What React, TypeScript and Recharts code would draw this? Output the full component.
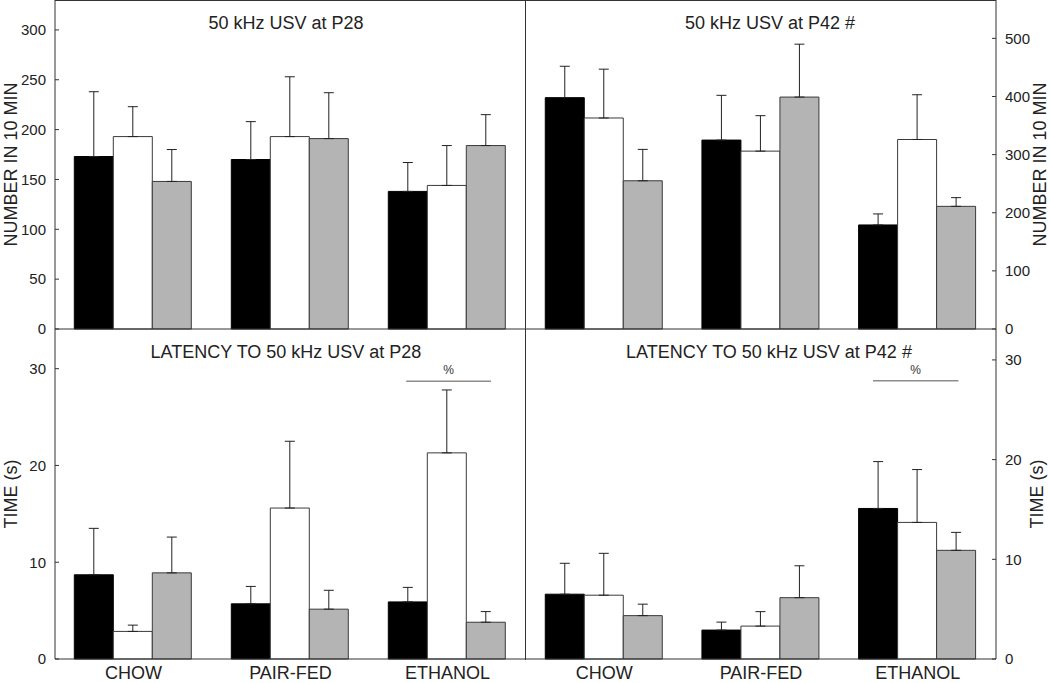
import React from "react";
import { BarChart, Bar, XAxis, YAxis, ErrorBar, ReferenceLine, Label } from "recharts";

const groups = ["CHOW", "PAIR-FED", "ETHANOL"];

// 50 kHz USV at P28 (number in 10 min)
const p28Black = [173, 170, 138];
const p28White = [193, 193, 144];
const p28Gray = [148, 191, 184];
const p28BlackErr = [65, 38, 29];
const p28WhiteErr = [30, 60, 40];
const p28GrayErr = [32, 46, 31];

// 50 kHz USV at P42
const p42Black = [398, 325, 179];
const p42White = [363, 306, 326];
const p42Gray = [255, 399, 211];
const p42BlackErr = [54, 77, 19];
const p42WhiteErr = [84, 61, 77];
const p42GrayErr = [54, 91, 15];

// latency at P28 (s)
const latP28Black = [8.7, 5.7, 5.9];
const latP28White = [2.85, 15.6, 21.3];
const latP28Gray = [8.9, 5.15, 3.8];
const latP28BlackErr = [4.8, 1.8, 1.5];
const latP28WhiteErr = [0.65, 6.9, 6.5];
const latP28GrayErr = [3.7, 1.95, 1.1];

// latency at P42 (s)
const latP42Black = [6.5, 2.9, 15.1];
const latP42White = [6.4, 3.3, 13.7];
const latP42Gray = [4.35, 6.15, 10.9];
const latP42BlackErr = [3.1, 0.8, 4.7];
const latP42WhiteErr = [4.2, 1.45, 5.3];
const latP42GrayErr = [1.15, 3.2, 1.8];

const countTicksP28 = [0, 50, 100, 150, 200, 250, 300];
const countTicksP42 = [0, 100, 200, 300, 400, 500];
const timeTicks = [0, 10, 20, 30];

// "%" bars over ETHANOL (x in category units 0..3, y in seconds)
const sigP28 = { from: 2.237, to: 2.777, y: 28.7 };
const sigP42 = { from: 2.215, to: 2.76, y: 27.9 };

function rows(b: number[], w: number[], g: number[], be: number[], we: number[], ge: number[]) {
  return groups.map((name, i) => ({
    group: name,
    black: b[i],
    white: w[i],
    gray: g[i],
    blackErr: [0, be[i]],
    whiteErr: [0, we[i]],
    grayErr: [0, ge[i]],
  }));
}

const FONT = '"Liberation Sans", Arial, Helvetica, sans-serif';
const AX = "#333";

function AxisTitle(props: any) {
  const vb = props.viewBox || { y: 0, height: 330 };
  const cy = vb.y + vb.height / 2;
  const x = props.baseX;
  return (
    <text x={x} y={cy} transform={`rotate(-90 ${x} ${cy})`} textAnchor="middle" fontSize={18} fill="#222">
      {props.text}
    </text>
  );
}

function sigShape(sig: { from: number; to: number }) {
  return (sp: any) => {
    const lo = Math.min(sp.x1, sp.x2);
    const w = Math.abs(sp.x2 - sp.x1);
    const a = lo + (w * sig.from) / groups.length;
    const b = lo + (w * sig.to) / groups.length;
    return (
      <g>
        <line x1={a} x2={b} y1={sp.y1} y2={sp.y1} stroke="#8c8c8c" strokeWidth={1.5} />
        <text x={(a + b) / 2} y={sp.y1 - 7} textAnchor="middle" fontSize={12} fill="#333">
          %
        </text>
      </g>
    );
  };
}

type PanelProps = {
  data: any[];
  domain: [number, number];
  ticks: number[];
  side: "left" | "right";
  yLabel: string;
  labelX: number;
  bottom: boolean;
  sig?: { from: number; to: number; y: number };
  left: number;
  top: number;
  width: number;
  height: number;
  title: string;
  titleX: number;
  titleY: number;
};

function Panel(p: PanelProps) {
  return (
    <>
      <div style={{ position: "absolute", left: p.left, top: p.top }}>
        <BarChart
          width={p.width}
          height={p.height}
          data={p.data}
          margin={{ top: 0, right: 0, bottom: 0, left: 0 }}
          barCategoryGap="12.3%"
          barGap={0}
        >
          <XAxis
            dataKey="group"
            height={p.bottom ? 24 : 16}
            tick={p.bottom ? { fontSize: 18, fill: "#222" } : false}
            tickLine={false}
            tickSize={0}
            tickMargin={7}
            axisLine={{ stroke: AX }}
            interval={0}
          />
          <YAxis
            orientation={p.side}
            width={p.side === "left" ? 55 : 54}
            domain={p.domain}
            ticks={p.ticks}
            interval={0}
            tick={{ fontSize: 15, fill: "#222" }}
            tickSize={-4}
            tickMargin={13}
            tickLine={{ stroke: AX }}
            axisLine={{ stroke: AX }}
          >
            <Label content={(lp: any) => <AxisTitle {...lp} text={p.yLabel} baseX={p.labelX} />} />
          </YAxis>
          <Bar dataKey="black" fill="#000" stroke="#000" strokeWidth={1} isAnimationActive={false}>
            <ErrorBar dataKey="blackErr" width={5} stroke="#222" strokeWidth={1} isAnimationActive={false} />
          </Bar>
          <Bar dataKey="white" fill="#fff" stroke="#3a3a3a" strokeWidth={1} isAnimationActive={false}>
            <ErrorBar dataKey="whiteErr" width={5} stroke="#222" strokeWidth={1} isAnimationActive={false} />
          </Bar>
          <Bar dataKey="gray" fill="#b4b4b4" stroke="#3a3a3a" strokeWidth={1} isAnimationActive={false}>
            <ErrorBar dataKey="grayErr" width={5} stroke="#222" strokeWidth={1} isAnimationActive={false} />
          </Bar>
          {p.sig && <ReferenceLine y={p.sig.y} shape={sigShape(p.sig)} />}
        </BarChart>
      </div>
      <div
        style={{
          position: "absolute",
          left: p.titleX - 200,
          top: p.titleY - 10,
          width: 400,
          height: 20,
          lineHeight: "20px",
          fontSize: 18,
          color: "#222",
          textAlign: "center",
          whiteSpace: "nowrap",
        }}
      >
        {p.title}
      </div>
    </>
  );
}

export default function App() {
  return (
    <div
      style={{
        position: "absolute",
        left: 0,
        top: 0,
        width: 1050,
        height: 683,
        background: "#fff",
        fontFamily: FONT,
        overflow: "hidden",
      }}
    >
      <Panel
        data={rows(p28Black, p28White, p28Gray, p28BlackErr, p28WhiteErr, p28GrayErr)}
        domain={[0, 330]}
        ticks={countTicksP28}
        side="left"
        yLabel="NUMBER IN 10 MIN"
        labelX={16.5}
        bottom={false}
        left={0}
        top={0}
        width={526}
        height={345}
        title="50 kHz USV at P28"
        titleX={286}
        titleY={23}
      />
      <Panel
        data={rows(p42Black, p42White, p42Gray, p42BlackErr, p42WhiteErr, p42GrayErr)}
        domain={[0, 566]}
        ticks={countTicksP42}
        side="right"
        yLabel="NUMBER IN 10 MIN"
        labelX={519.5}
        bottom={false}
        left={526}
        top={0}
        width={524}
        height={345}
        title="50 kHz USV at P42 #"
        titleX={770}
        titleY={23}
      />
      <Panel
        data={rows(latP28Black, latP28White, latP28Gray, latP28BlackErr, latP28WhiteErr, latP28GrayErr)}
        domain={[0, 34.1]}
        ticks={timeTicks}
        side="left"
        yLabel="TIME (s)"
        labelX={16.5}
        bottom={true}
        sig={sigP28}
        left={0}
        top={329}
        width={526}
        height={354}
        title="LATENCY TO 50 kHz USV at P28"
        titleX={286}
        titleY={352}
      />
      <Panel
        data={rows(latP42Black, latP42White, latP42Gray, latP42BlackErr, latP42WhiteErr, latP42GrayErr)}
        domain={[0, 33.1]}
        ticks={timeTicks}
        side="right"
        yLabel="TIME (s)"
        labelX={516.5}
        bottom={true}
        sig={sigP42}
        left={526}
        top={329}
        width={524}
        height={354}
        title="LATENCY TO 50 kHz USV at P42 #"
        titleX={769}
        titleY={352}
      />
      {/* frame: top edge and the divider between left and right panels */}
      <div style={{ position: "absolute", left: 55, top: 0, width: 941, height: 1, background: AX }} />
      <div style={{ position: "absolute", left: 525, top: 0, width: 1, height: 660, background: AX }} />
    </div>
  );
}
